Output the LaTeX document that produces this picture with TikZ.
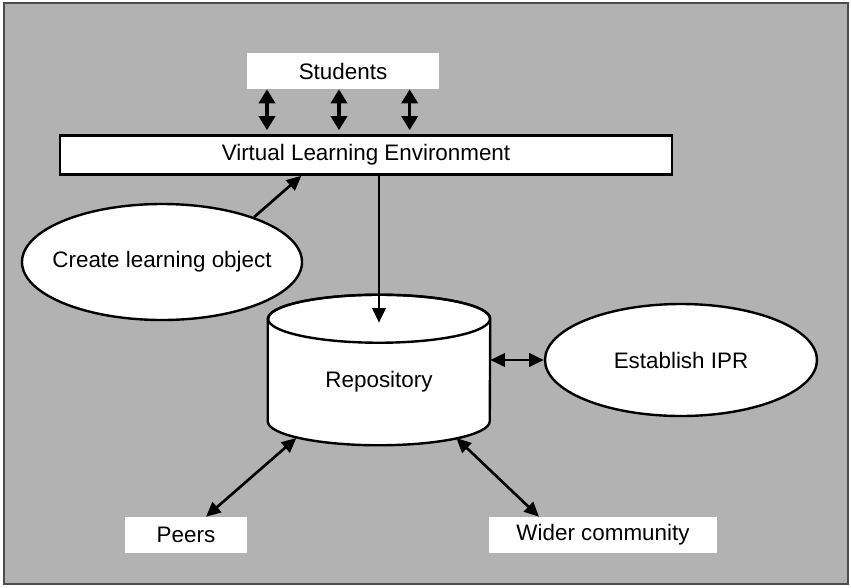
\documentclass[tikz,border=0pt]{standalone}
\usepackage{fontspec}
\setmainfont{Liberation Sans}
\usetikzlibrary{arrows.meta,shapes.geometric}

\definecolor{bggray}{RGB}{178,178,178}
\tikzset{
  box/.style={fill=white, inner sep=0pt},
  blob/.style={ellipse, draw, fill=white, line width=1.8pt, inner sep=0pt},
  arr/.style={line width=2pt, -{Triangle[length=11pt,width=10pt]}},
  biarr/.style={line width=2pt, {Triangle[length=11pt,width=10pt]}-{Triangle[length=11pt,width=10pt]}},
  fatbiarr/.style={line width=2.6pt, {Triangle[length=10.5pt,width=12pt]}-{Triangle[length=10.5pt,width=12pt]}}
}

\begin{document}
\begin{tikzpicture}[x=0.75pt, y=-0.75pt, font=\fontsize{16.8}{20}\selectfont]
  \useasboundingbox (0,0) rectangle (851,587);
  \draw[fill=bggray, draw=black!70, line width=1.1pt] (4,3) rectangle (848,584);

  \node[box, minimum width=144pt, minimum height=27pt] (stud) at (343,71) {Students};
  \node[box, draw, line width=2pt, minimum width=459pt, minimum height=29.25pt] (vle) at (366,155) {Virtual Learning Environment};
  \node[blob, minimum width=210pt, minimum height=87pt] (create) at (162,262) {\makebox[0pt]{Create learning object}};
  \node[blob, minimum width=204pt, minimum height=84pt] (ipr) at (681,360) {\makebox[0pt]{Establish IPR}};
  \node[box, minimum width=91pt, minimum height=27pt] (peers) at (186,535) {Peers};
  \node[box, minimum width=171pt, minimum height=27pt] (wider) at (603,535) {Wider community};

  % repository drum
  \node[minimum width=166.5pt, minimum height=112.5pt, inner sep=0pt] (repo) at (379,370) {};
  \draw[fill=white, line width=1.8pt]
    ([yshift=-18pt]repo.north west) -- ([yshift=18pt]repo.south west)
    arc[start angle=180, end angle=360, x radius=83.25pt, y radius=18pt]
    -- ([yshift=-18pt]repo.north east)
    arc[start angle=0, end angle=180, x radius=83.25pt, y radius=18pt] -- cycle;
  \draw[line width=1.8pt] ([yshift=-18pt]repo.north) ellipse [x radius=83.25pt, y radius=18pt];
  \node (repolabel) at (379,382) {Repository};

  % students <-> VLE
  \foreach \dx in {-57,-3,50}{
    \draw[fatbiarr, shorten >=3pt] ([xshift=\dx pt]stud.south) -- ([xshift=\dx pt]stud.south |- vle.north);
  }
  \draw[arr] (create.26) -- ([xshift=182pt]vle.south west);
  \draw[arr] (repo.center |- vle.south) -- ([yshift=-21pt]repo.north);
  \draw[biarr] (repo.east |- ipr.west) -- (ipr.west);
  \draw[biarr] ([xshift=15pt]peers.north) -- ([xshift=-62pt,yshift=-51pt]repo.center);
  \draw[biarr] ([xshift=-48pt]wider.north) -- ([xshift=58pt,yshift=-51pt]repo.center);
\end{tikzpicture}
\end{document}
